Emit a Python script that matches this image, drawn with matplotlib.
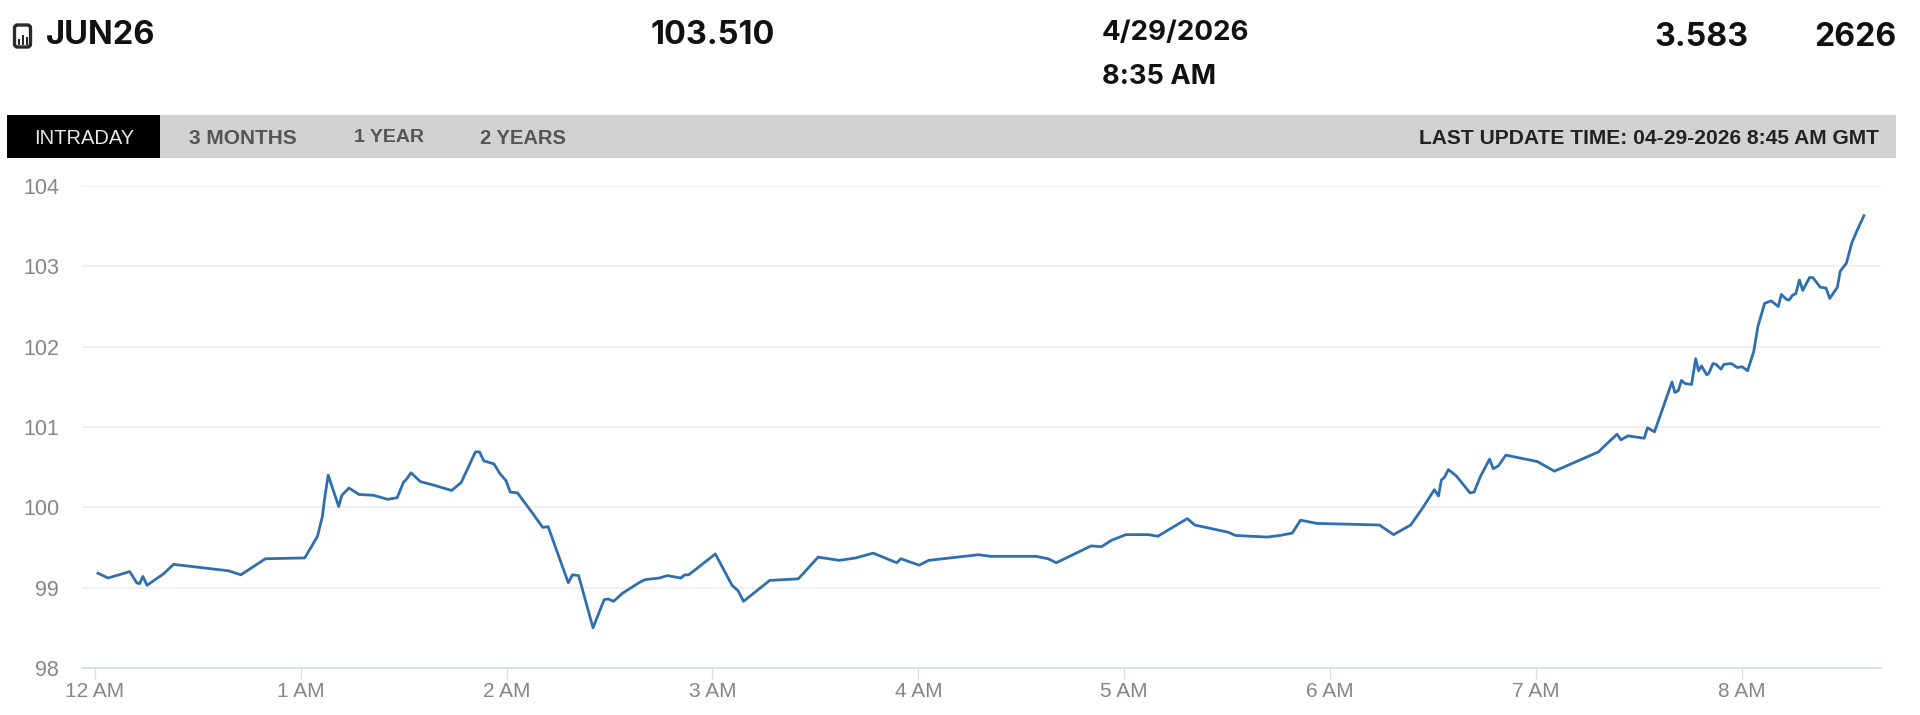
import matplotlib
matplotlib.use('Agg')
import matplotlib.pyplot as plt
from matplotlib.patches import Rectangle, FancyBboxPatch

# hours after midnight
hours = [0.016, 0.065, 0.17, 0.204, 0.218, 0.234, 0.254, 0.333, 0.383, 0.65, 0.71, 0.829,
         1.02, 1.082, 1.106, 1.116, 1.134, 1.185, 1.2, 1.235, 1.284, 1.354, 1.423, 1.469,
         1.499, 1.514, 1.536, 1.582, 1.641, 1.734, 1.78, 1.849, 1.869, 1.889, 1.939, 1.968,
         1.998, 2.018, 2.053, 2.117, 2.176, 2.202, 2.30, 2.32, 2.35, 2.42, 2.474, 2.494,
         2.52, 2.563, 2.642, 2.672, 2.742, 2.781, 2.847, 2.865, 2.885, 2.92, 3.014, 3.095,
         3.125, 3.151, 3.278, 3.417, 3.513, 3.616, 3.696, 3.781, 3.895, 3.915, 4.004, 4.05,
         4.153, 4.292, 4.352, 4.571, 4.63, 4.67, 4.839, 4.889, 4.938, 5.008, 5.117, 5.163,
         5.306, 5.342, 5.505, 5.54, 5.694, 5.757, 5.816, 5.856, 5.935, 6.239, 6.308, 6.391,
         6.451, 6.506, 6.526, 6.54, 6.554, 6.574, 6.613, 6.679, 6.699, 6.729, 6.774, 6.792,
         6.818, 6.853, 7.006, 7.089, 7.303, 7.343, 7.393, 7.412, 7.446, 7.525, 7.541, 7.575,
         7.66, 7.674, 7.69, 7.706, 7.724, 7.755, 7.775, 7.789, 7.803, 7.829, 7.839, 7.859,
         7.874, 7.898, 7.912, 7.948, 7.977, 8.001, 8.027, 8.057, 8.077, 8.11, 8.142, 8.176,
         8.191, 8.215, 8.229, 8.245, 8.261, 8.279, 8.295, 8.328, 8.344, 8.38, 8.408, 8.426,
         8.463, 8.477, 8.507, 8.533, 8.556, 8.592]
prices = [99.18, 99.12, 99.20, 99.06, 99.05, 99.14, 99.03, 99.17, 99.29, 99.21, 99.16, 99.36,
          99.37, 99.64, 99.89, 100.10, 100.40, 100.01, 100.15, 100.24, 100.16, 100.15, 100.10, 100.12,
          100.31, 100.35, 100.43, 100.32, 100.28, 100.21, 100.31, 100.69, 100.69, 100.58, 100.54, 100.42,
          100.33, 100.19, 100.18, 99.96, 99.75, 99.76, 99.06, 99.16, 99.15, 98.50, 98.85, 98.86,
          98.83, 98.93, 99.06, 99.10, 99.12, 99.15, 99.12, 99.16, 99.16, 99.23, 99.42, 99.03,
          98.96, 98.83, 99.09, 99.11, 99.38, 99.34, 99.37, 99.43, 99.31, 99.36, 99.28, 99.34,
          99.37, 99.41, 99.39, 99.39, 99.36, 99.31, 99.52, 99.51, 99.59, 99.66, 99.66, 99.64,
          99.86, 99.78, 99.69, 99.65, 99.63, 99.65, 99.68, 99.84, 99.80, 99.78, 99.66, 99.78,
          100.0, 100.22, 100.14, 100.34, 100.37, 100.47, 100.39, 100.18, 100.19, 100.38, 100.60, 100.48,
          100.52, 100.65, 100.57, 100.45, 100.69, 100.79, 100.91, 100.84, 100.89, 100.86, 100.99, 100.94,
          101.56, 101.43, 101.45, 101.58, 101.54, 101.53, 101.85, 101.70, 101.76, 101.65, 101.67, 101.79,
          101.78, 101.72, 101.78, 101.79, 101.74, 101.75, 101.70, 101.94, 102.25, 102.54, 102.57, 102.50,
          102.65, 102.59, 102.58, 102.64, 102.66, 102.83, 102.70, 102.86, 102.86, 102.74, 102.73, 102.60,
          102.74, 102.94, 103.04, 103.29, 103.43, 103.63]

hour_ticks = [0, 1, 2, 3, 4, 5, 6, 7, 8]
hour_labels = ['12 AM', '1 AM', '2 AM', '3 AM', '4 AM', '5 AM', '6 AM', '7 AM', '8 AM']
price_ticks = [98, 99, 100, 101, 102, 103, 104]
tabs = ['INTRADAY', '3 MONTHS', '1 YEAR', '2 YEARS']

W, H = 1920, 715
plt.rcParams['font.family'] = ['Liberation Sans', 'DejaVu Sans']
fig = plt.figure(figsize=(W / 100, H / 100), dpi=100, facecolor='white')

# header and tab bar are drawn in pixel coordinates on a full size overlay
bg = fig.add_axes([0, 0, 1, 1])
bg.set_xlim(0, W)
bg.set_ylim(H, 0)
bg.axis('off')

bg.add_patch(Rectangle((7, 115), 1889, 43, color='#d2d2d2', lw=0))
bg.add_patch(Rectangle((7, 115), 153, 43, color='#000000', lw=0))

# little document icon
bg.add_patch(FancyBboxPatch((14.5, 25), 16, 22, boxstyle='round,pad=0,rounding_size=3',
                            fc='white', ec='#2a2a2a', lw=2.4))
for bx, bh in [(18, 6), (22, 10), (26, 8)]:
    bg.add_patch(Rectangle((bx, 45 - bh), 2, bh, color='#2a2a2a', lw=0))

head = dict(family='Inter', fontweight='bold', color='#111111', va='center')
bg.text(46, 35, 'JUN26', ha='left', fontsize=23.5, **head)
bg.text(650, 36, '103.510', ha='left', fontsize=23.4, **head)
bg.text(1749, 37, '3.583', ha='right', fontsize=23.2, **head)
bg.text(1896, 37, '2626', ha='right', fontsize=23, **head)
bg.text(1102, 33, '4/29/2026', ha='left', fontsize=20, **head)
bg.text(1102, 77, '8:35 AM', ha='left', fontsize=19.6, **head)

tab_x = [84, 243, 389, 523]
tab_colors = ['#e8e8e8', '#555555', '#555555', '#555555']
tab_sizes = [14.5, 15, 14, 14.5]
for label, x, c, s in zip(tabs, tab_x, tab_colors, tab_sizes):
    bg.text(x, 138, label, ha='center', va='center', color=c, fontsize=s,
            fontweight='normal' if label == 'INTRADAY' else 'bold')
bg.text(1879, 138, 'LAST UPDATE TIME: 04-29-2026 8:45 AM GMT', ha='right', va='center',
        color='#222222', fontsize=15.1, fontweight='bold')

# the chart itself, plot area 82..1881 by 186..668 px
ax = fig.add_axes([82 / W, 1 - 668 / H, (1881 - 82) / W, (668 - 186) / H])
ax.patch.set_alpha(0)
ax.plot(hours, prices, color='#2f6fb0', lw=2.0, solid_joinstyle='round', clip_on=False)
ax.set_xlim(-0.0617, 8.675)
ax.set_ylim(98, 104)
ax.set_xticks(hour_ticks)
ax.set_xticklabels(hour_labels)
ax.set_yticks(price_ticks)
ax.grid(axis='y', color='#f0f0f0', lw=1.5)
ax.set_axisbelow(True)
for side in ['top', 'left', 'right']:
    ax.spines[side].set_visible(False)
ax.spines['bottom'].set_color('#d5dcec')
ax.spines['bottom'].set_linewidth(1.2)
ax.tick_params(axis='x', length=8, width=1, color='#d5dcec', labelcolor='#868686',
               labelsize=15, pad=2)
ax.tick_params(axis='y', length=0, labelcolor='#868686', labelsize=15.5, pad=16.5)

fig.savefig('out.png', dpi=100)
